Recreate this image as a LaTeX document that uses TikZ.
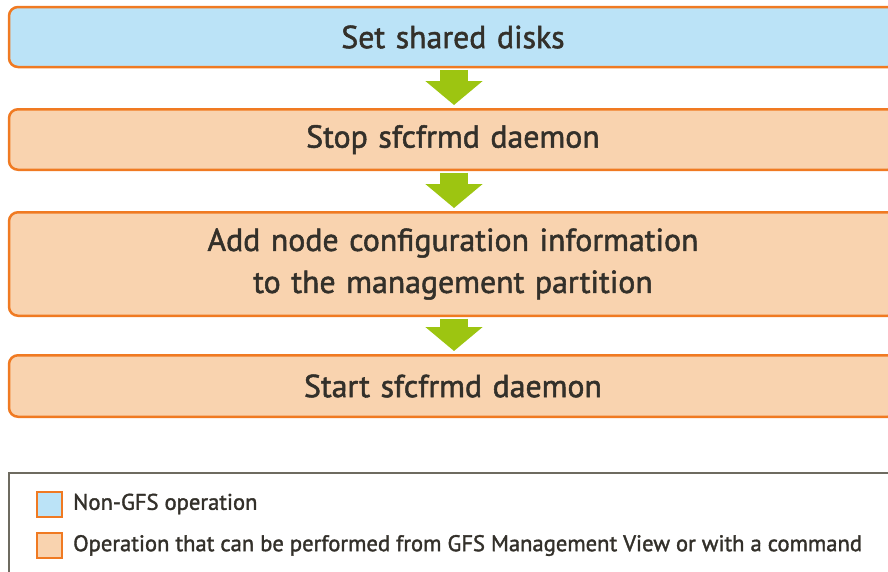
\documentclass[tikz,border=0pt]{standalone}
\usepackage{fontspec}
\setmainfont{PT Sans}
\newfontfamily\flowfont{PT Sans}[RawFeature={embolden=1.6}]
\usetikzlibrary{positioning,arrows.meta}
\definecolor{boxline}{HTML}{F07A22}
\definecolor{boxfill}{HTML}{F9D3AF}
\definecolor{skyfill}{HTML}{BBE3F7}
\definecolor{arrowgreen}{HTML}{9DC511}
\definecolor{textdark}{HTML}{33302A}
\definecolor{legendline}{HTML}{6E6B60}
\tikzset{
  stepbox/.style={draw=boxline, line width=2.5pt, fill=boxfill, rounded corners=9pt,
    minimum width=888pt, text width=860pt, align=center, inner sep=0pt,
    text=textdark, font=\flowfont\fontsize{31.8}{42}\selectfont},
  skybox/.style={stepbox, fill=skyfill},
  flow/.style={draw=arrowgreen, line width=28pt, -{Triangle[width=56pt,length=24pt]}},
  keybox/.style={draw=boxline, line width=2pt, fill=boxfill, minimum size=25pt, inner sep=0pt},
  keytext/.style={text=textdark, font=\flowfont\fontsize{22.6}{26}\selectfont, inner sep=0pt}
}
\begin{document}
\begin{tikzpicture}[x=1pt, y=-1pt, node distance=10pt]
  \useasboundingbox (0,0) rectangle (888,571);
  \clip (0,0) rectangle (888,571);

  \node[skybox, minimum height=60pt] (disks) at (453,37) {Set shared disks};
  \node[stepbox, minimum height=60.5pt] (stop) at (453,139.5) {Stop sfcfrmd daemon};
  \node[stepbox, minimum height=103.5pt] (add) at (453,264) {Add node configuration information\\to the management partition};
  \node[stepbox, minimum height=61.5pt] (start) at (453,386) {Start sfcfrmd daemon};

  \draw[flow] ([xshift=1pt,yshift=-1.5pt]disks.south) -- ([xshift=1pt,yshift=3pt]stop.north);
  \draw[flow] ([xshift=1pt,yshift=-1.5pt]stop.south) -- ([xshift=1pt,yshift=3pt]add.north);
  \draw[flow] ([xshift=1pt,yshift=-1.5pt]add.south) -- ([xshift=1pt,yshift=3pt]start.north);

  \node[draw=legendline, line width=2pt, anchor=north west, minimum width=900pt,
    minimum height=150pt] (legend) at (8,472) {};
  \node[keybox, fill=skyfill] (keysky) at (49.5,504) {};
  \node[keybox] (keypeach) at (49.5,545.5) {};
  \node[keytext, right=of keysky] (nongfs) {Non-GFS operation};
  \node[keytext, right=of keypeach] (gfsview) {Operation that can be performed from GFS Management View or with a command};
\end{tikzpicture}
\end{document}
